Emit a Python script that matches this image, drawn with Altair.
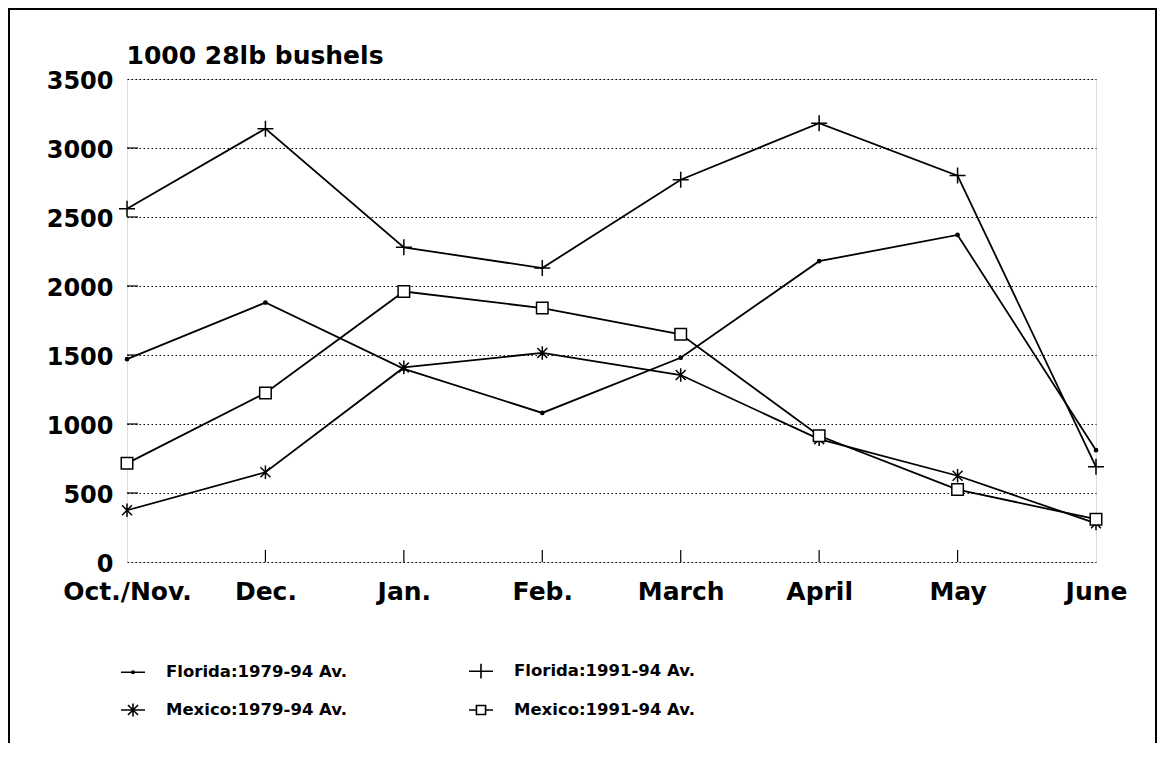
import altair as alt
import pandas as pd

months = ["Oct./Nov.", "Dec.", "Jan.", "Feb.", "March", "April", "May", "June"]
series_names = ["Florida:1979-94 Av.", "Mexico:1979-94 Av.",
                "Florida:1991-94 Av.", "Mexico:1991-94 Av."]
florida_7994 = [1470, 1880, 1400, 1080, 1480, 2180, 2370, 810]
mexico_7994 = [375, 650, 1410, 1515, 1355, 890, 625, 280]
florida_9194 = [2560, 3140, 2280, 2130, 2770, 3180, 2800, 690]
mexico_9194 = [715, 1225, 1960, 1840, 1650, 915, 525, 310]
y_tick_values = [0, 500, 1000, 1500, 2000, 2500, 3000, 3500]
inner_y_ticks = [500, 1000, 1500, 2000, 2500, 3000]
inner_x_ticks = ["Dec.", "Jan.", "Feb.", "March", "April", "May"]

rows = []
for name, vals in zip(series_names, [florida_7994, mexico_7994, florida_9194, mexico_9194]):
    for m, v in zip(months, vals):
        rows.append({"month": m, "value": v, "series": name})
df = pd.DataFrame(rows)

W, H = 969, 483
FONT = "DejaVu Sans"

x_enc = alt.X("month:N", sort=months,
              scale=alt.Scale(domain=months, type="point", padding=0),
              axis=alt.Axis(title=None, labelAngle=0, labelFontSize=25, labelFont=FONT,
                            labelFontWeight="bold", labelColor="black", ticks=False,
                            labelPadding=17, domain=False, grid=False))
y_enc = alt.Y("value:Q", scale=alt.Scale(domain=[0, 3500], nice=False, zero=True),
              axis=alt.Axis(title="1000 28lb bushels", titleAngle=0, titleX=-1, titleY=-16,
                            titleAlign="left", titleBaseline="alphabetic",
                            titleFont=FONT, titleFontSize=25, titleFontWeight="bold",
                            titleColor="black",
                            values=y_tick_values, format="d", labelFontSize=24,
                            labelFont=FONT, labelFontWeight="bold", labelColor="black",
                            ticks=False, labelPadding=14, domain=False, grid=True,
                            gridColor="black", gridDash=[1.5, 2.5], gridWidth=1.1,
                            labelOffset=2))

# shapes in the same order as series_names
point_shapes = [
    "M-0.2,0A0.2,0.2 0 1,1 0.2,0A0.2,0.2 0 1,1 -0.2,0Z",
    "M0,-0.85V0.85M-0.62,-0.62L0.62,0.62M-0.62,0.62L0.62,-0.62",
    "M-1,0H1M0,-1V1",
    "M-0.72,-0.72H0.72V0.72H-0.72Z",
]
legend_shapes = [
    "M-1,0H1M-0.1,0A0.1,0.1 0 1,1 0.1,0A0.1,0.1 0 1,1 -0.1,0Z",
    "M-1,0H1M0,-0.55V0.55M-0.42,-0.42L0.42,0.42M-0.42,0.42L0.42,-0.42",
    "M-1,0H1M0,-0.62V0.62",
    "M-1,0H-0.38M0.38,0H1M-0.38,-0.38H0.38V0.38H-0.38Z",
]

base = alt.Chart(df)

lines = base.mark_line(color="black", strokeWidth=1.8).encode(
    x=x_enc, y=y_enc, detail="series:N")

points = base.mark_point(color="black", strokeWidth=1.5, size=256, opacity=1).encode(
    x=x_enc, y=y_enc,
    shape=alt.Shape("series:N", scale=alt.Scale(domain=series_names, range=point_shapes), legend=None),
    fill=alt.Fill("series:N", scale=alt.Scale(domain=series_names,
                                              range=["black", "white", "white", "white"]), legend=None),
)

legend_layer = base.mark_point(color="black", strokeWidth=1.6, filled=False, size=576).encode(
    x=x_enc, y=y_enc,
    shape=alt.Shape("series:N", scale=alt.Scale(domain=series_names, range=legend_shapes),
                    legend=alt.Legend(title=None, orient="none", legendX=-7, legendY=579,
                                      columns=2, columnPadding=118, rowPadding=15,
                                      labelFont=FONT, labelFontSize=16.5, labelFontWeight="bold",
                                      labelColor="black",
                                      labelOffset=20, symbolSize=576, labelLimit=400,
                                      symbolStrokeColor="black", symbolStrokeWidth=1.6,
                                      symbolOpacity=1, padding=0)),
).transform_filter("false")

ytick_df = pd.DataFrame({"value": inner_y_ticks})
ytick = alt.Chart(ytick_df).mark_rule(color="black", strokeWidth=1.2).encode(
    y=alt.Y("value:Q", scale=alt.Scale(domain=[0, 3500], nice=False)),
    x=alt.value(0), x2=alt.value(11))

xtick_df = pd.DataFrame({"month": inner_x_ticks})
xtick = alt.Chart(xtick_df).mark_rule(color="black", strokeWidth=1.2).encode(
    x=alt.X("month:N", sort=months, scale=alt.Scale(domain=months, type="point", padding=0)),
    y=alt.value(H - 12), y2=alt.value(H))

frame_df = pd.DataFrame({"k": [0]})
frame_left = alt.Chart(frame_df).mark_rule(color="black", strokeWidth=2).encode(
    x=alt.value(-118), y=alt.value(-70), y2=alt.value(800))
frame_top = alt.Chart(frame_df).mark_rule(color="black", strokeWidth=2).encode(
    x=alt.value(-119), x2=alt.value(1030), y=alt.value(-70))
frame_right = alt.Chart(frame_df).mark_rule(color="black", strokeWidth=2).encode(
    x=alt.value(1029), y=alt.value(-70), y2=alt.value(800))

chart = alt.layer(lines, points, legend_layer, ytick, xtick,
                  frame_left, frame_top, frame_right).resolve_scale(
    shape="independent"
).properties(
    width=W, height=H,
    autosize=alt.AutoSizeParams(type="none"),
    padding={"left": 119, "top": 71, "right": 61, "bottom": 181},
).configure_view(stroke="black", strokeWidth=1.5).configure(background="white")

chart.save("out.html", embed_options={"renderer": "svg", "actions": False})
